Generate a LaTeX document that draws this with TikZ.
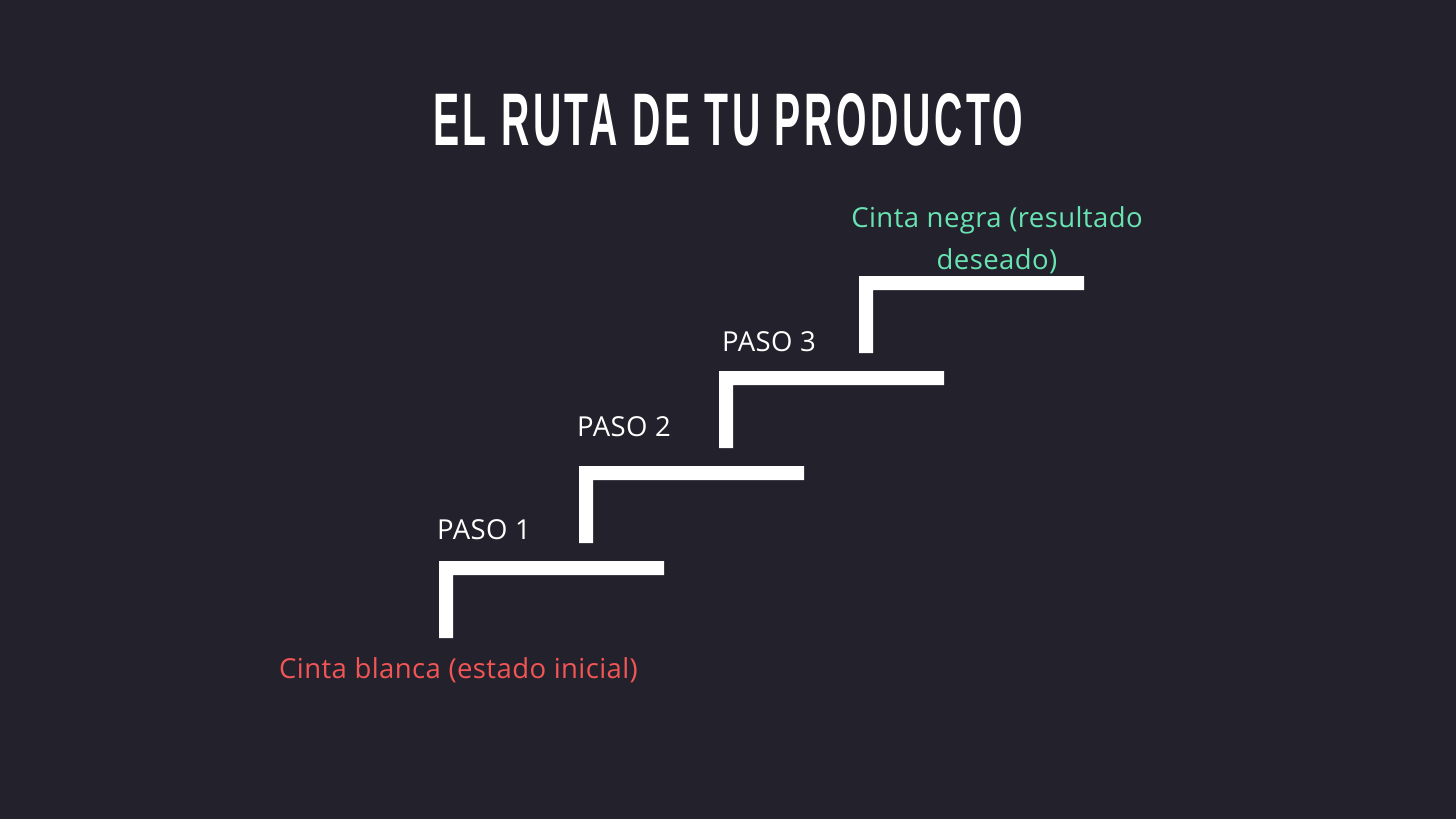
\documentclass[tikz,border=0pt]{standalone}
\usepackage{fontspec}
\setmainfont[LetterSpace=1.5]{Open Sans}
\newfontfamily\titlefont[LetterSpace=9]{Liberation Sans}
\definecolor{bgc}{RGB}{35,33,43}
\definecolor{redc}{RGB}{242,85,85}
\definecolor{greenc}{RGB}{104,228,178}
\tikzset{
  stepbar/.style={fill=white,draw=none},
  lbl/.style={text=white,font=\fontsize{27.5}{30}\selectfont,inner sep=0pt,anchor=base west},
  endlbl/.style={font=\fontsize{27.5}{42}\selectfont,inner sep=0pt,align=center}
}
\begin{document}
\begin{tikzpicture}[x=1pt,y=-1pt]
\fill[bgc] (0,0) rectangle (1456,819);
\useasboundingbox (0,0) rectangle (1456,819);
\node[inner sep=0pt,anchor=base west,text=white] (title) at (433,145)
  {\resizebox{590pt}{52pt}{\titlefont\bfseries EL RUTA DE TU PRODUCTO}};
\foreach \k in {0,1,2,3}{
  \pgfmathsetmacro{\xo}{439+140*\k}
  \pgfmathsetmacro{\yt}{561-95*\k}
  \fill[stepbar] (\xo,\yt) -- ++(225,0) -- ++(0,14) -- ++(-211,0) -- ++(0,63) -- ++(-14,0) -- cycle;
}
\node[lbl] (p1) at (437,539) {PASO 1};
\node[lbl] (p2) at (577,436) {PASO 2};
\node[lbl] (p3) at (722,351) {PASO 3};
\node[lbl,text=redc] (start) at (279,678) {Cinta blanca (estado inicial)};
\node[endlbl,text=greenc] (goal) at (997,240) {Cinta negra (resultado\\deseado)};
\end{tikzpicture}
\end{document}
